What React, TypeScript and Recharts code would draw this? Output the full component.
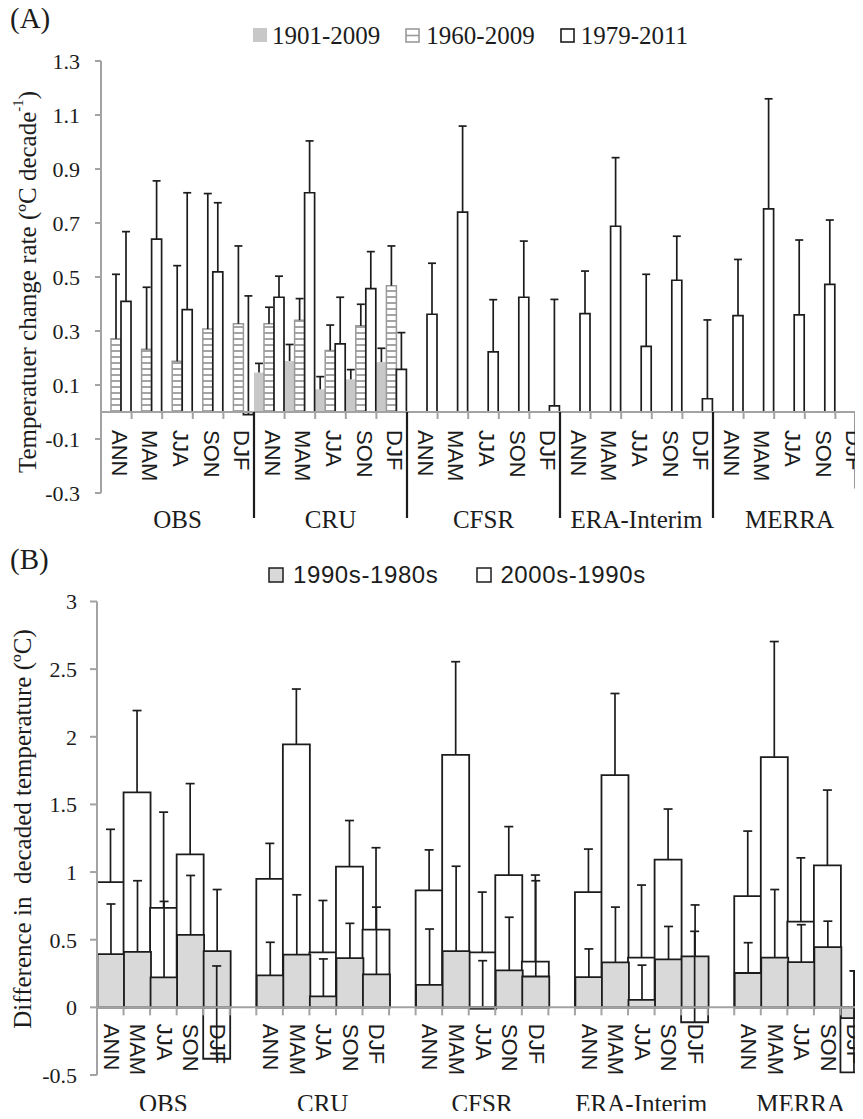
import { Bar, BarChart, ReferenceLine, XAxis, YAxis } from "recharts";

const SERIF = '"Liberation Serif", "Times New Roman", serif';
const SANS = '"Liberation Sans", Arial, sans-serif';
const INK = "#1c1c1c";
const AXIS_GRAY = "#a3a3a3";

const groups = ["OBS", "CRU", "CFSR", "ERA-Interim", "MERRA"];
const seasons = ["ANN", "MAM", "JJA", "SON", "DJF"];
const seriesA = ["1901-2009", "1960-2009", "1979-2011"];
const seriesB = ["1990s-1980s", "2000s-1990s"];

// (A) trends, ºC per decade; one row per group, one column per season
const trend1901 = [
  [null, null, null, null, null],
  [0.146, 0.189, 0.084, 0.121, 0.185],
  [null, null, null, null, null],
  [null, null, null, null, null],
  [null, null, null, null, null],
];
const err1901 = [
  [null, null, null, null, null],
  [0.034, 0.061, 0.047, 0.036, 0.051],
  [null, null, null, null, null],
  [null, null, null, null, null],
  [null, null, null, null, null],
];
const trend1960 = [
  [0.271, 0.232, 0.188, 0.307, 0.327],
  [0.327, 0.34, 0.228, 0.319, 0.468],
  [null, null, null, null, null],
  [null, null, null, null, null],
  [null, null, null, null, null],
];
const err1960 = [
  [0.239, 0.23, 0.354, 0.502, 0.288],
  [0.061, 0.08, 0.094, 0.08, 0.147],
  [null, null, null, null, null],
  [null, null, null, null, null],
  [null, null, null, null, null],
];
const trend1979 = [
  [0.41, 0.64, 0.379, 0.519, -0.01],
  [0.425, 0.812, 0.252, 0.457, 0.158],
  [0.362, 0.74, 0.223, 0.425, 0.023],
  [0.364, 0.688, 0.243, 0.488, 0.049],
  [0.357, 0.752, 0.36, 0.473, -0.28],
];
const err1979 = [
  [0.258, 0.216, 0.433, 0.256, 0.44],
  [0.078, 0.192, 0.173, 0.137, 0.136],
  [0.189, 0.319, 0.193, 0.208, 0.394],
  [0.158, 0.254, 0.267, 0.163, 0.292],
  [0.208, 0.408, 0.277, 0.238, null],
];

// (B) decadal differences, ºC
const diff80s = [
  [0.393, 0.41, 0.221, 0.536, 0.416],
  [0.237, 0.39, 0.081, 0.364, 0.244],
  [0.166, 0.416, -0.01, 0.273, 0.228],
  [0.224, 0.332, 0.055, 0.354, 0.377],
  [0.254, 0.367, 0.335, 0.445, -0.08],
];
const errDiff80s = [
  [0.371, 0.526, 0.562, 0.439, 0.455],
  [0.244, 0.442, 0.277, 0.257, 0.497],
  [0.413, 0.627, 0.355, 0.393, 0.708],
  [0.208, 0.409, 0.257, 0.244, 0.38],
  [0.224, 0.504, 0.276, 0.192, 0.35],
];
const diff90s = [
  [0.926, 1.589, 0.735, 1.131, -0.38],
  [0.949, 1.944, 0.406, 1.04, 0.575],
  [0.865, 1.866, 0.406, 0.978, 0.338],
  [0.852, 1.716, 0.367, 1.092, -0.11],
  [0.822, 1.849, 0.634, 1.05, -0.48],
];
const errDiff90s = [
  [0.39, 0.605, 0.708, 0.523, 0.686],
  [0.263, 0.409, 0.384, 0.341, 0.605],
  [0.299, 0.689, 0.446, 0.358, 0.64],
  [0.318, 0.604, 0.537, 0.374, 0.672],
  [0.481, 0.855, 0.471, 0.556, 0.75],
];

const ticksA = [-0.3, -0.1, 0.1, 0.3, 0.5, 0.7, 0.9, 1.1, 1.3];
const ticksB = [-0.5, 0, 0.5, 1, 1.5, 2, 2.5, 3];

// error bars only go up, drawn as range bars [value, value + err]
const span = (v: number | null, e: number | null) =>
  v == null || e == null ? null : [v, v + e];

const rowsA = groups.flatMap((group, gi) =>
  seasons.map((season, si) => ({
    group,
    season,
    t1901: trend1901[gi][si],
    t1960: trend1960[gi][si],
    t1979: trend1979[gi][si],
    r1901: span(trend1901[gi][si], err1901[gi][si]),
    r1960: span(trend1960[gi][si], err1960[gi][si]),
    r1979: span(trend1979[gi][si], err1979[gi][si]),
  }))
);

const rowsB = groups.flatMap((group, gi) => {
  const rows: any[] = seasons.map((season, si) => ({
    group,
    season,
    d80: diff80s[gi][si],
    d90: diff90s[gi][si],
    r80: span(diff80s[gi][si], errDiff80s[gi][si]),
    r90: span(diff90s[gi][si], errDiff90s[gi][si]),
  }));
  if (gi < groups.length - 1) {
    rows.push({ group, season: "", d80: null, d90: null, r80: null, r90: null });
  }
  return rows;
});

// chart geometry
const A_W = 870;
const A_H = 560;
const A_M = { top: 61, right: 4, bottom: 37, left: 0 };
const A_YW = 101;
const A_XH = 30;
const A_PLOT_H = A_H - A_M.top - A_M.bottom - A_XH;
const A_ZERO = A_M.top + (A_PLOT_H * 1.3) / 1.6;
const A_BAND = (A_W - A_M.left - A_M.right - A_YW) / rowsA.length;

const B_TOP = 540;
const B_W = 870;
const B_H = 579;
const B_M = { top: 61.5, right: 3, bottom: 14, left: 0 };
const B_YW = 97;
const B_XH = 30;
const B_PLOT_H = B_H - B_M.top - B_M.bottom - B_XH;
const B_ZERO = B_M.top + (B_PLOT_H * 3) / 3.5;
const B_BAND = (B_W - B_M.left - B_M.right - B_YW) / rowsB.length;

const errShape = (key: string, cap: number) => (p: any) => {
  if (!p.payload || p.payload[key] == null || !Number.isFinite(p.y) || !Number.isFinite(p.height)) {
    return <g />;
  }
  const top = Math.min(p.y, p.y + p.height);
  const bottom = Math.max(p.y, p.y + p.height);
  const cx = p.x + p.width / 2;
  return (
    <g stroke={INK} strokeWidth={1.7}>
      <line x1={cx} x2={cx} y1={top} y2={bottom} />
      <line x1={cx - cap} x2={cx + cap} y1={top} y2={top} />
    </g>
  );
};

function SeasonTickA(props: any) {
  const { x, index, payload } = props;
  const half = A_BAND / 2;
  const row = rowsA[index];
  return (
    <g>
      <line x1={x + half} x2={x + half} y1={A_ZERO} y2={A_ZERO + 7} stroke={AXIS_GRAY} strokeWidth={2} />
      {index % 5 === 0 && index > 0 && (
        <line x1={x - half} x2={x - half} y1={A_ZERO} y2={A_ZERO + 106} stroke={INK} strokeWidth={2.2} />
      )}
      <text
        transform={`translate(${x + 3},${A_ZERO + 18}) rotate(90)`}
        dominantBaseline="central"
        fontFamily={SANS}
        fontSize={22}
        fill={INK}
      >
        {payload.value}
      </text>
      {row && row.season === "JJA" && (
        <text x={x} y={A_ZERO + 107} textAnchor="middle" dominantBaseline="central" fontFamily={SERIF} fontSize={25} fill={INK}>
          {row.group}
        </text>
      )}
    </g>
  );
}

function SeasonTickB(props: any) {
  const { x, index, payload } = props;
  const half = B_BAND / 2;
  const row = rowsB[index];
  return (
    <g>
      <line x1={x + half} x2={x + half} y1={B_ZERO} y2={B_ZERO + 8} stroke={AXIS_GRAY} strokeWidth={2} />
      <text
        transform={`translate(${x + 1},${B_ZERO + 16.5}) rotate(90)`}
        dominantBaseline="central"
        fontFamily={SANS}
        fontSize={22}
        fill={INK}
      >
        {payload.value}
      </text>
      {row && row.season === "JJA" && (
        <text x={x} y={B_ZERO + 96.5} textAnchor="middle" dominantBaseline="central" fontFamily={SERIF} fontSize={25} fill={INK}>
          {row.group}
        </text>
      )}
    </g>
  );
}

function TitleA() {
  return (
    <text
      transform="translate(27, 282) rotate(-90)"
      textAnchor="middle"
      dominantBaseline="central"
      fontFamily={SERIF}
      fontSize={25}
      fill={INK}
    >
      Temperatuer change rate (ºC decade
      <tspan dy={-9} fontSize={15}>-1</tspan>
      <tspan dy={9}>)</tspan>
    </text>
  );
}

function TitleB() {
  return (
    <text
      transform={`translate(22.5, ${829 - B_TOP}) rotate(-90)`}
      textAnchor="middle"
      dominantBaseline="central"
      fontFamily={SERIF}
      fontSize={25}
      fill={INK}
      style={{ whiteSpace: "pre" }}
    >
      {"Difference in  decaded temperature (ºC)"}
    </text>
  );
}

const legendText = { lineHeight: 1, color: INK, whiteSpace: "nowrap" as const };

export default function App() {
  return (
    <div
      style={{
        position: "relative",
        width: 863,
        height: 1119,
        margin: -8,
        overflow: "hidden",
        background: "#fff",
      }}
    >
      <div style={{ position: "absolute", left: 10, top: 4, fontFamily: SERIF, fontSize: 29, lineHeight: "29px", color: INK }}>
        (A)
      </div>
      <div
        style={{
          position: "absolute",
          left: 253,
          top: 22.5,
          display: "flex",
          alignItems: "center",
          gap: 25,
          fontFamily: SERIF,
          fontSize: 25,
          ...legendText,
        }}
      >
        <div style={{ display: "flex", alignItems: "center", gap: 5 }}>
          <span style={{ width: 14, height: 14, background: "#c8c8c8", display: "inline-block" }} />
          <span>{seriesA[0]}</span>
        </div>
        <div style={{ display: "flex", alignItems: "center", gap: 6 }}>
          <svg width={15} height={15}>
            <rect x={1} y={1} width={13} height={13} fill="#fff" stroke="#9a9a9a" strokeWidth={1.6} />
            <line x1={1} x2={14} y1={7.5} y2={7.5} stroke="#9a9a9a" strokeWidth={1.6} />
          </svg>
          <span>{seriesA[1]}</span>
        </div>
        <div style={{ display: "flex", alignItems: "center", gap: 6 }}>
          <svg width={15} height={15}>
            <rect x={1} y={1} width={13} height={13} fill="#fff" stroke={INK} strokeWidth={1.6} />
          </svg>
          <span>{seriesA[2]}</span>
        </div>
      </div>

      <div style={{ position: "absolute", left: 0, top: 0 }}>
        <BarChart width={A_W} height={A_H} data={rowsA} margin={A_M} barGap={0} barCategoryGap={0}>
          <defs>
            <pattern id="stripeH" width={6} height={6} patternUnits="userSpaceOnUse">
              <rect width={6} height={6} fill="#fff" />
              <line x1={0} x2={6} y1={3} y2={3} stroke="#9a9a9a" strokeWidth={1.8} />
            </pattern>
          </defs>
          <YAxis
            domain={[-0.3, 1.3]}
            ticks={ticksA}
            width={A_YW}
            axisLine={{ stroke: AXIS_GRAY, strokeWidth: 2 }}
            tickLine={{ stroke: AXIS_GRAY, strokeWidth: 2 }}
            tickSize={6}
            tickMargin={15}
            tick={{ fontFamily: SERIF, fontSize: 22, fill: INK }}
            tickFormatter={(v: number) => v.toFixed(1)}
            label={<TitleA />}
          />
          <XAxis
            dataKey="season"
            interval={0}
            height={A_XH}
            axisLine={false}
            tickLine={false}
            tick={(p: any) => <SeasonTickA {...p} />}
          />
          <XAxis xAxisId="err" dataKey="season" hide />
          <ReferenceLine y={0} stroke={AXIS_GRAY} strokeWidth={2} />
          <Bar dataKey="t1901" name={seriesA[0]} fill="#c8c8c8" isAnimationActive={false} />
          <Bar dataKey="t1960" name={seriesA[1]} fill="url(#stripeH)" stroke="#9a9a9a" strokeWidth={1.5} isAnimationActive={false} />
          <Bar dataKey="t1979" name={seriesA[2]} fill="#fff" stroke={INK} strokeWidth={1.7} isAnimationActive={false} />
          <Bar xAxisId="err" dataKey="r1901" shape={errShape("r1901", 4)} isAnimationActive={false} />
          <Bar xAxisId="err" dataKey="r1960" shape={errShape("r1960", 4)} isAnimationActive={false} />
          <Bar xAxisId="err" dataKey="r1979" shape={errShape("r1979", 4)} isAnimationActive={false} />
        </BarChart>
      </div>

      <div style={{ position: "absolute", left: 10, top: 545, fontFamily: SERIF, fontSize: 29, lineHeight: "29px", color: INK }}>
        (B)
      </div>
      <div
        style={{
          position: "absolute",
          left: 268,
          top: 563,
          display: "flex",
          alignItems: "center",
          gap: 38,
          fontFamily: SANS,
          fontSize: 24,
          letterSpacing: 0.6,
          ...legendText,
        }}
      >
        <div style={{ display: "flex", alignItems: "center", gap: 9 }}>
          <svg width={16} height={16}>
            <rect x={1} y={1} width={14} height={14} fill="#d9d9d9" stroke={INK} strokeWidth={1.5} />
          </svg>
          <span>{seriesB[0]}</span>
        </div>
        <div style={{ display: "flex", alignItems: "center", gap: 8 }}>
          <svg width={16} height={16}>
            <rect x={1} y={1} width={14} height={14} fill="#fff" stroke={INK} strokeWidth={1.5} />
          </svg>
          <span>{seriesB[1]}</span>
        </div>
      </div>

      <div style={{ position: "absolute", left: 0, top: B_TOP }}>
        <BarChart width={B_W} height={B_H} data={rowsB} margin={B_M} barGap="-100%" barCategoryGap={0}>
          <YAxis
            domain={[-0.5, 3]}
            ticks={ticksB}
            width={B_YW}
            axisLine={{ stroke: AXIS_GRAY, strokeWidth: 2 }}
            tickLine={{ stroke: AXIS_GRAY, strokeWidth: 2 }}
            tickSize={7}
            tickMargin={13}
            tick={{ fontFamily: SERIF, fontSize: 22, fill: INK }}
            tickFormatter={(v: number) => String(v)}
            label={<TitleB />}
          />
          <XAxis
            dataKey="season"
            interval={0}
            height={B_XH}
            axisLine={false}
            tickLine={false}
            tick={(p: any) => <SeasonTickB {...p} />}
          />
          <XAxis xAxisId="err" dataKey="season" hide />
          <ReferenceLine y={0} stroke={AXIS_GRAY} strokeWidth={2} />
          <Bar dataKey="d90" name={seriesB[1]} fill="#fff" stroke={INK} strokeWidth={1.8} isAnimationActive={false} />
          <Bar dataKey="d80" name={seriesB[0]} fill="#d9d9d9" stroke={INK} strokeWidth={1.8} isAnimationActive={false} />
          <Bar xAxisId="err" dataKey="r90" shape={errShape("r90", 4.5)} isAnimationActive={false} />
          <Bar xAxisId="err" dataKey="r80" shape={errShape("r80", 4.5)} isAnimationActive={false} />
        </BarChart>
      </div>
    </div>
  );
}
